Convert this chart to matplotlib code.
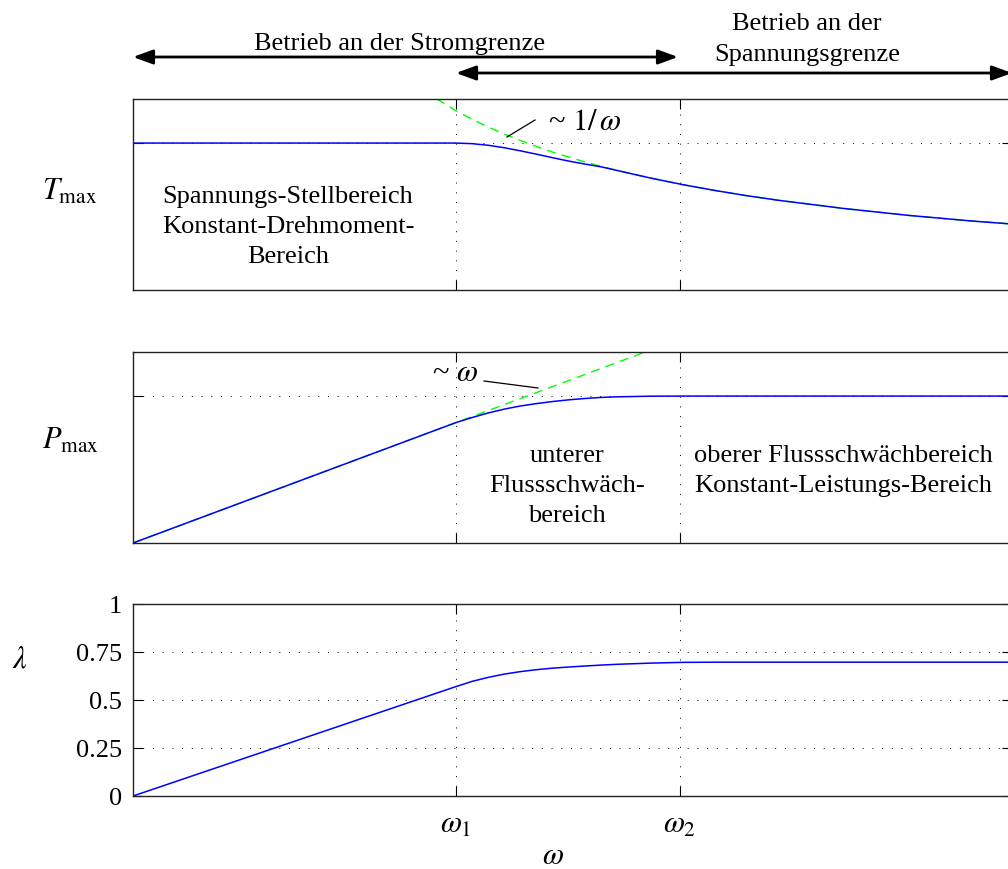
import matplotlib
matplotlib.use('Agg')
import matplotlib.pyplot as plt
from matplotlib.lines import Line2D
from matplotlib.patches import FancyArrowPatch

plt.rcParams['font.family'] = ['Liberation Serif', 'DejaVu Serif']
plt.rcParams['mathtext.fontset'] = 'stix'

# ---------------- data ----------------
omega = [0.0, 0.5, 1.0, 1.05, 1.1, 1.15, 1.2, 1.25, 1.3, 1.35, 1.4, 1.45,
         1.5, 1.6, 1.7, 1.8, 1.9, 2.0, 2.2, 2.4, 2.6, 2.8]
T_max = [1.0, 1.0, 1.0, 0.996, 0.985, 0.968, 0.947, 0.924, 0.900, 0.877, 0.857, 0.838,
         0.813, 0.763, 0.718, 0.678, 0.642, 0.610, 0.555, 0.508, 0.469, 0.436]
P_max = [0.0, 0.5, 1.0, 1.042, 1.080, 1.112, 1.138, 1.158, 1.175, 1.189, 1.200, 1.209,
         1.214, 1.219, 1.220, 1.220, 1.220, 1.220, 1.220, 1.220, 1.220, 1.220]
lam = [0.0, 0.285, 0.570, 0.597, 0.618, 0.635, 0.648, 0.658, 0.666, 0.672, 0.677, 0.682,
       0.686, 0.692, 0.696, 0.697, 0.697, 0.697, 0.697, 0.697, 0.697, 0.697]

omega_hyp = [0.9, 1.0, 1.05, 1.1, 1.15, 1.2, 1.25, 1.3, 1.35, 1.4, 1.45,
             1.5, 1.6, 1.7, 1.8, 1.9, 2.0, 2.2, 2.4, 2.6, 2.8]
T_hyp = [1.356, 1.220, 1.162, 1.109, 1.061, 1.017, 0.976, 0.938, 0.904, 0.871, 0.841,
         0.813, 0.763, 0.718, 0.678, 0.642, 0.610, 0.555, 0.508, 0.469, 0.436]

omega_lin = [0.0, 1.0, 1.6]
P_lin = [0.0, 1.0, 1.6]

T_level = 1.0
P_level = 1.22
omega_ticks = [1.0, 1.693]
omega_ticklabels = [r'$\omega_1$', r'$\omega_2$']
lam_ticks = [0, 0.25, 0.5, 0.75, 1]
lam_ticklabels = ['0', '0.25', '0.5', '0.75', '1']

# ---------------- figure ----------------
W, H = 1008, 870
fig = plt.figure(figsize=(W / 100, H / 100), dpi=100)


def fx(x):
    return x / W


def fy(y):
    return 1 - y / H


x_left, x_right = 133, 1012
xmax = (x_right - x_left) / 323.0
FS = 19
grid_kw = dict(color='k', lw=0.7, linestyle=(0, (1, 9)))


def make_ax(top, bottom):
    ax = fig.add_axes([fx(x_left), fy(bottom), (x_right - x_left) / W, (bottom - top) / H])
    ax.set_xlim(0, xmax)
    ax.tick_params(direction='in', top=True, right=True, length=7, width=0.8,
                   labelsize=FS)
    for s in ax.spines.values():
        s.set_linewidth(1.0)
        s.set_color('#222222')
    return ax


# Panel 1: T_max
ax1 = make_ax(100, 291)
ax1.set_ylim(0, 1.3 * T_level)
ax1.plot(omega_hyp, T_hyp, color='#00ff00', lw=1.0, linestyle=(0, (6.5, 4.5)))
ax1.plot(omega, T_max, color='#0000ff', lw=1.1)
ax1.set_xticks(omega_ticks)
ax1.set_xticklabels([])
ax1.set_yticks([T_level])
ax1.set_yticklabels([])
ax1.grid(True, **grid_kw)

# Panel 2: P_max
ax2 = make_ax(353, 544)
ax2.set_ylim(0, 1.3 * P_level)
ax2.plot(omega_lin, P_lin, color='#00ff00', lw=1.0, linestyle=(0, (6.5, 4.5)))
ax2.plot(omega, P_max, color='#0000ff', lw=1.1)
ax2.set_xticks(omega_ticks)
ax2.set_xticklabels([])
ax2.set_yticks([P_level])
ax2.set_yticklabels([])
ax2.grid(True, **grid_kw)

# Panel 3: lambda
ax3 = make_ax(605, 797)
ax3.set_ylim(0, 1)
ax3.plot(omega, lam, color='#0000ff', lw=1.1)
ax3.set_xticks(omega_ticks)
ax3.set_xticklabels(omega_ticklabels, fontsize=22)
ax3.set_yticks(lam_ticks)
ax3.set_yticklabels(lam_ticklabels)
ax3.tick_params(axis='x', pad=10)
ax3.tick_params(axis='y', pad=8)
ax3.grid(True, **grid_kw)

# ---------------- labels ----------------
fig.text(fx(70), fy(192), r'$T_{\max}$', fontsize=22, ha='center', va='center')
fig.text(fx(70), fy(441), r'$P_{\max}$', fontsize=22, ha='center', va='center')
fig.text(fx(20), fy(660), r'$\lambda$', fontsize=22, ha='center', va='center')
fig.text(fx(553), fy(857), r'$\omega$', fontsize=22, ha='center', va='center')

# region texts
for txt, x, y in [("Spannungs-Stellbereich", 288, 203),
                  ("Konstant-Drehmoment-", 288, 233),
                  ("Bereich", 288, 263),
                  ("unterer", 567, 462),
                  ("Flussschwäch-", 567, 492),
                  ("bereich", 567, 522),
                  ("oberer Flussschwächbereich", 843, 462),
                  ("Konstant-Leistungs-Bereich", 843, 492)]:
    fig.text(fx(x), fy(y), txt, fontsize=FS, ha='center', va='baseline')

# top texts
fig.text(fx(400), fy(50), "Betrieb an der Stromgrenze", fontsize=FS, ha='center', va='baseline')
fig.text(fx(807), fy(30), "Betrieb an der", fontsize=FS, ha='center', va='baseline')
fig.text(fx(807), fy(61), "Spannungsgrenze", fontsize=FS, ha='center', va='baseline')

# arrows
for (x0, x1, y) in [(133, 678, 58), (456, 1012, 74)]:
    arr = FancyArrowPatch((fx(x0), fy(y)), (fx(x1), fy(y)), transform=fig.transFigure,
                          arrowstyle='<|-|>,head_length=0.6,head_width=0.22',
                          mutation_scale=20, lw=2.0, color='k',
                          shrinkA=0, shrinkB=0)
    fig.add_artist(arr)

# asymptote annotations
fig.text(fx(585), fy(122), r'~ $1/\,\omega$', fontsize=22, ha='center', va='center')
fig.add_artist(Line2D([fx(507), fx(535)], [fy(138), fy(121)], transform=fig.transFigure,
                      color='k', lw=0.9))
fig.text(fx(455), fy(374), r'~ $\omega$', fontsize=22, ha='center', va='center')
fig.add_artist(Line2D([fx(484), fx(538)], [fy(382), fy(389)], transform=fig.transFigure,
                      color='k', lw=0.9))

fig.savefig('out.png', dpi=100)
